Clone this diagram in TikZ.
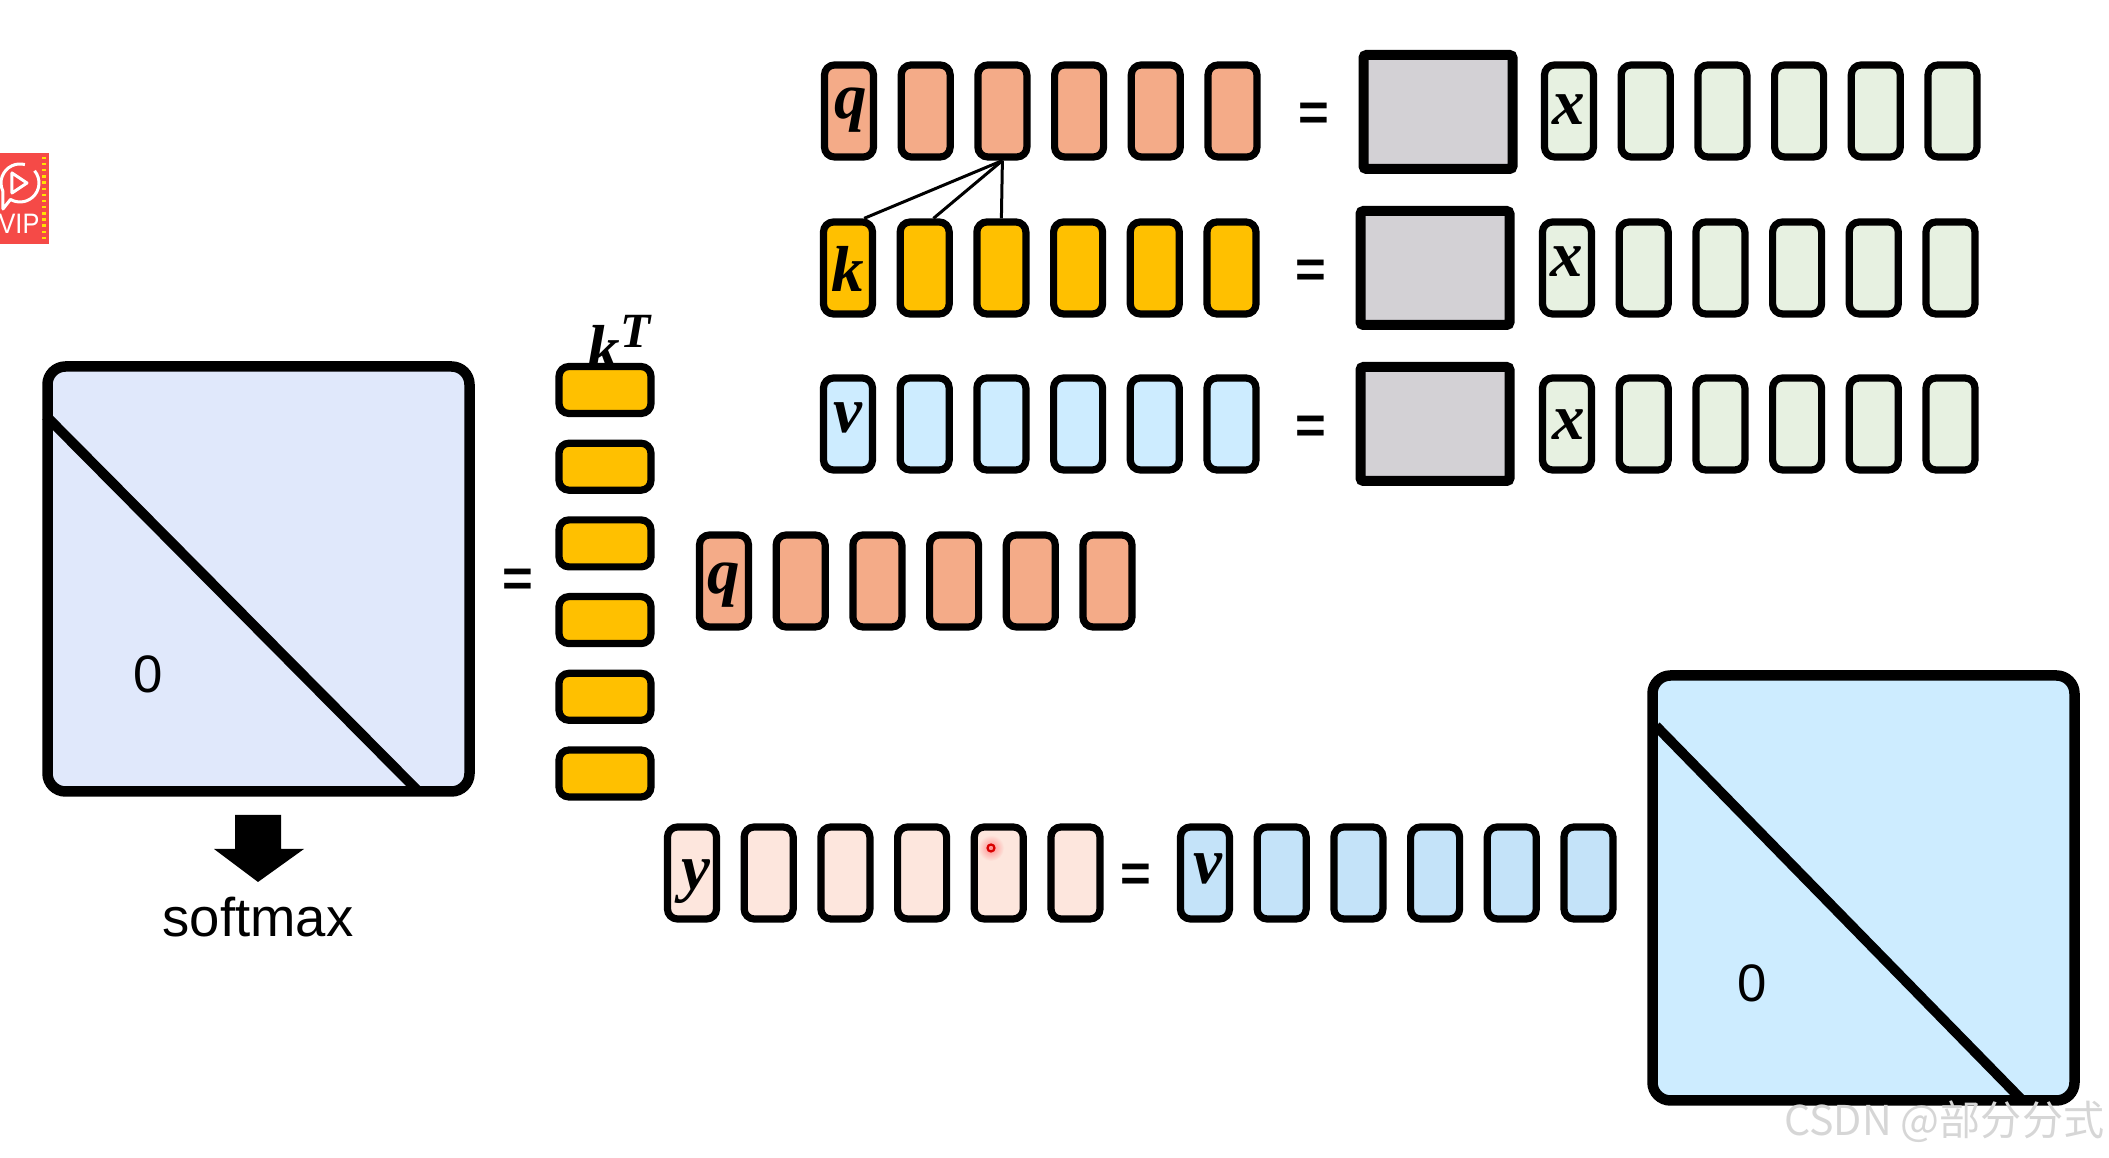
\documentclass[tikz,border=0pt]{standalone}
\usepackage{fontspec}
\setsansfont{Liberation Sans}
\newfontfamily\cjkwm{Noto Sans CJK SC}
\newfontfamily\lettfont{Liberation Serif}
\usepackage{tikz}
\usetikzlibrary{positioning,calc}
\definecolor{qfill}{HTML}{F4AB88}
\definecolor{kfill}{HTML}{FFC000}
\definecolor{vlight}{HTML}{CDECFF}
\definecolor{vmid}{HTML}{C4E3F9}
\definecolor{xfill}{HTML}{E7F1E1}
\definecolor{yfill}{HTML}{FDE6DD}
\definecolor{boxgray}{HTML}{D3D1D5}
\definecolor{attfill}{HTML}{E0E8FB}
\definecolor{vipred}{HTML}{F54A47}
\definecolor{wmgray}{HTML}{D6D6D6}
\tikzset{
  cell/.style={draw=black,line width=0.072cm,rounded corners=0.1cm,inner sep=0pt,minimum width=0.49cm,minimum height=0.92cm},
  hcell/.style={draw=black,line width=0.072cm,rounded corners=0.1cm,inner sep=0pt,minimum width=0.92cm,minimum height=0.47cm,fill=kfill},
  graybox/.style={draw=black,line width=0.1cm,rounded corners=0.03cm,inner sep=0pt,minimum width=1.49cm,minimum height=1.14cm,fill=boxgray},
  bigbox/.style={draw=black,line width=0.105cm,rounded corners=0.18cm,inner sep=0pt,minimum width=4.22cm,minimum height=4.25cm},
  diag/.style={line width=0.1cm},
  letter/.style={inner sep=0pt,font=\lettfont\fontsize{18.5}{18.5}\selectfont\bfseries\itshape},
  eqsign/.style={inner sep=0pt,font=\sffamily\fontsize{15}{15}\selectfont\bfseries},
  zero/.style={inner sep=0pt,font=\sffamily\fontsize{15}{15}\selectfont}
}
\begin{document}
\begin{tikzpicture}
  \useasboundingbox (0,0) rectangle (21.09,11.58);
  % three rows on top
  \foreach \i in {1,...,6}{
    \node[cell,fill=qfill] (q\i) at ({8.49+0.767*(\i-1)},10.47) {};
    \node[cell,fill=kfill] (k\i) at ({8.48+0.767*(\i-1)},8.90) {};
    \node[cell,fill=vlight] (v\i) at ({8.48+0.767*(\i-1)},7.34) {};
    \node[cell,fill=xfill] (xa\i) at ({15.69+0.767*(\i-1)},10.47) {};
    \node[cell,fill=xfill] (xb\i) at ({15.67+0.767*(\i-1)},8.90) {};
    \node[cell,fill=xfill] (xc\i) at ({15.67+0.767*(\i-1)},7.34) {};
  }
  \node[letter] (qlab) at (8.51,10.48) {q};
  \node[letter] (klab) at (8.48,8.89) {k};
  \node[letter] (vlab) at (8.48,7.40) {v};
  \node[letter] (xalab) at (15.69,10.48) {x};
  \node[letter] (xblab) at (15.67,8.96) {x};
  \node[letter] (xclab) at (15.69,7.33) {x};
  \draw[line width=0.03cm] (q3.south) -- (k1.72);
  \draw[line width=0.03cm] (q3.south) -- (k2.80);
  \draw[line width=0.03cm] (q3.south) -- (k3.north);
  \node[eqsign] (eqa) at (13.14,10.41) {=};
  \node[eqsign] (eqb) at (13.11,8.84) {=};
  \node[eqsign] (eqc) at (13.11,7.28) {=};
  \node[graybox] (ga) at (14.38,10.46) {};
  \node[graybox] (gb) at (14.35,8.90) {};
  \node[graybox] (gc) at (14.35,7.34) {};
  % attention matrix
  \node[bigbox,fill=attfill] (att) at (2.585,5.79) {};
  \coordinate (atta) at (0.46,7.42);
  \coordinate (attb) at (4.18,3.67);
  \draw[diag] (atta) -- (attb);
  \node[zero] (attz) at (1.48,4.84) {0};
  \node[eqsign] (eqd) at (5.18,5.75) {=};
  \foreach \i in {1,...,6}{
    \node[hcell] (kt\i) at ({6.05},{7.68-0.767*(\i-1)}) {};
  }
  \node[letter] (ktlab) at (6.19,8.15) {k\raisebox{0.75ex}{\fontsize{14}{14}\selectfont T}};
  \foreach \i in {1,...,6}{
    \node[cell,fill=qfill] (qm\i) at ({7.24+0.767*(\i-1)},5.77) {};
    \node[cell,fill=yfill] (y\i) at ({6.92+0.767*(\i-1)},2.85) {};
    \node[cell,fill=vmid] (vb\i) at ({12.05+0.767*(\i-1)},2.85) {};
  }
  \node[letter] (qmlab) at (7.24,5.73) {q};
  \node[letter] (ylab) at (6.96,2.76) {y};
  \node[letter] (vblab) at (12.08,2.89) {v};
  \node[eqsign] (eqe) at (11.36,2.80) {=};
  % second matrix
  \node[bigbox,fill=vlight] (dec) at (18.635,2.70) {};
  \coordinate (deca) at (16.56,4.32);
  \coordinate (decb) at (20.21,0.59);
  \draw[diag] (deca) -- (decb);
  \node[zero] (decz) at (17.52,1.75) {0};
  % softmax arrow
  \fill (2.35,3.43) -- (2.81,3.43) -- (2.81,3.09) -- (3.04,3.09) -- (2.58,2.76) -- (2.14,3.09) -- (2.35,3.09) -- cycle;
  \node[inner sep=0pt,font=\sffamily\fontsize{15.5}{15.5}\selectfont] (softlab) at (2.58,2.41) {softmax};
  % pointer dot
  \shade[inner color=red!45,outer color=yfill] (9.91,3.10) circle (0.13);
  \draw[red!85!black,line width=0.022cm] (9.91,3.10) circle (0.035);
  % badge
  \fill[vipred] (0,9.14) rectangle (0.49,10.05);
  \draw[white,line width=0.03cm,line join=round] (0.2,9.75) ++(40:0.19) arc (40:-120:0.19) -- (0.03,9.49) -- (0.028,9.67) arc (205:75:0.19);
  \draw[white,line width=0.03cm,line join=round] (0.12,9.65) -- (0.12,9.85) -- (0.27,9.75) -- cycle;
  \node[inner sep=0pt,text=white,xscale=0.9,font=\sffamily\fontsize{8}{8}\selectfont] (viplab) at (0.19,9.34) {VIP};
  \foreach \i in {0,...,13}{
    \fill[yellow!85!orange] ({0.44-0.018},{10.00-0.0615*\i-0.012}) rectangle ({0.44+0.018},{10.00-0.0615*\i+0.012});
  }
  % watermark
  \node[anchor=east,inner sep=0pt,text=wmgray,font=\cjkwm\fontsize{11.7}{11.7}\selectfont] (wmark) at (21.05,0.36) {CSDN @部分分式};
\end{tikzpicture}
\end{document}
